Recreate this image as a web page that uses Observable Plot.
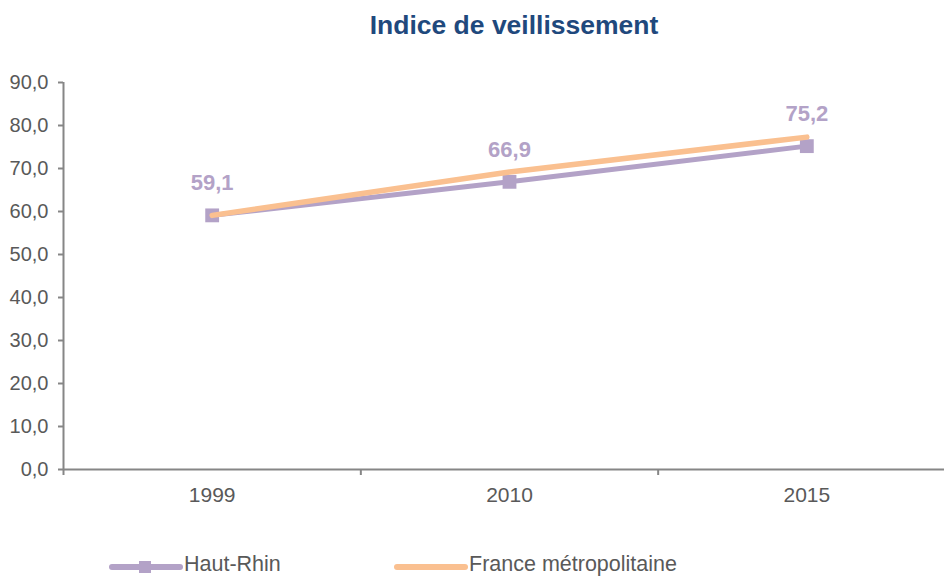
<!DOCTYPE html>
<html>
<head>
<meta charset="utf-8">
<script src="https://cdn.jsdelivr.net/npm/d3@7"></script>
<script src="https://cdn.jsdelivr.net/npm/@observablehq/plot@0.6"></script>
<style>
  body { margin: 0; background: #fff; font-family: "Liberation Sans", Arial, sans-serif; }
  #wrap { position: relative; width: 944px; height: 577px; overflow: hidden; }
  #title { box-sizing: border-box; width: 944px; padding-left: 84px; height: 50px; line-height: 50px;
           text-align: center; font-size: 26.5px; font-weight: bold; color: #1F497D; }
  #legend { position: absolute; left: 0; top: 537px; width: 944px; height: 37px; }
  .lg { position: absolute; top: 0; height: 37px; display: flex; align-items: center; font-size: 21.5px; color: #595959; }
</style>
</head>
<body>
<div id="wrap">
  <div id="title">Indice de veillissement</div>
  <div id="chart"></div>
  <div id="legend"></div>
</div>
<script>
const years = ["1999", "2010", "2015"];
const hautRhin = [59.1, 66.9, 75.2];
const france = [59.1, 69.2, 77.3];
const yTicks = [0, 10, 20, 30, 40, 50, 60, 70, 80, 90];
const seriesNames = ["Haut-Rhin", "France métropolitaine"];

const purple = "#B3A2C7";
const orange = "#FAC090";
const axisGray = "#868686";
const textGray = "#595959";

const rows = years.map((year, i) => ({ i, year, hr: hautRhin[i], fr: france[i] }));
const fmt = v => v.toFixed(1).replace(".", ",");

const chart = Plot.plot({
  width: 944,
  height: 490,
  marginTop: 32,
  marginBottom: 71,
  marginLeft: 63,
  marginRight: 0,
  style: { fontFamily: "'Liberation Sans', Arial, sans-serif", background: "#fff" },
  x: { type: "linear", domain: [-0.5, 2.463] },
  y: { domain: [0, 90] },
  marks: [
    Plot.axisY({ ticks: yTicks, tickSize: 5, tickPadding: 10, tickFormat: fmt, fontSize: 20,
                 stroke: axisGray, strokeWidth: 2, fill: textGray, label: null }),
    Plot.axisX({ ticks: [-0.5, 0.5, 1.5], tickSize: 6, tickFormat: () => "", stroke: axisGray, strokeWidth: 2, label: null }),
    Plot.axisX({ ticks: [0, 1, 2], tickSize: 0, tickPadding: 18, tickFormat: i => years[i], fontSize: 21,
                 fill: textGray, label: null }),
    Plot.ruleX([-0.5], { y1: 0, y2: 90, stroke: axisGray, strokeWidth: 2 }),
    Plot.ruleY([0], { stroke: axisGray, strokeWidth: 2 }),
    Plot.line(rows, { x: "i", y: "hr", stroke: purple, strokeWidth: 5 }),
    Plot.dot(rows, { x: "i", y: "hr", symbol: "square", r: 7.8, fill: purple, stroke: "none" }),
    Plot.line(rows, { x: "i", y: "fr", stroke: orange, strokeWidth: 5.5, strokeLinecap: "round" }),
    Plot.text(rows, { x: "i", y: "hr", text: d => fmt(d.hr), dy: -32, fontSize: 22, fontWeight: "bold", fill: purple })
  ]
});
document.getElementById("chart").appendChild(chart);

// Legend
const legend = document.getElementById("legend");
const items = [
  { name: seriesNames[0], color: purple, marker: true, left: 108 },
  { name: seriesNames[1], color: orange, marker: false, left: 393 }
];
for (const it of items) {
  const div = document.createElement("div");
  div.className = "lg";
  div.style.left = it.left + "px";
  const svg = d3.create("svg").attr("width", 76).attr("height", 37).style("display", "block");
  svg.append("line").attr("x1", 4).attr("x2", 72).attr("y1", 30).attr("y2", 30)
    .attr("stroke", it.color).attr("stroke-width", 6).attr("stroke-linecap", "round");
  if (it.marker) svg.append("rect").attr("x", 31).attr("y", 24).attr("width", 12).attr("height", 12).attr("fill", it.color);
  div.appendChild(svg.node());
  const span = document.createElement("span");
  span.textContent = it.name;
  span.style.position = "relative";
  span.style.top = "9px";
  div.appendChild(span);
  legend.appendChild(div);
}
</script>
</body>
</html>
